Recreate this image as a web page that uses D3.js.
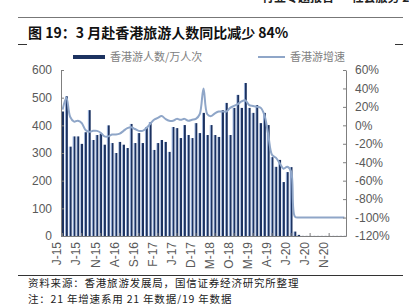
<!DOCTYPE html>
<html>
<head>
<meta charset="utf-8">
<script src="https://d3js.org/d3.v7.min.js"></script>
<style>
  body { margin:0; background:#fff; }
  svg { display:block; font-family:"Liberation Sans", Arial, "Noto Sans CJK SC", sans-serif; }
  .axis text { fill:#595959; font-size:12px; font-family:"Liberation Sans", Arial, sans-serif; }
  .axis path, .axis line { stroke:#7f7f7f; }
  .cjk { font-family:"Noto Sans CJK SC", sans-serif; }
</style>
</head>
<body>
<script>

// months Jan 2015 .. Mar 2021
var categories = [
  "2015-01","2015-02","2015-03","2015-04","2015-05","2015-06","2015-07","2015-08","2015-09","2015-10","2015-11","2015-12",
  "2016-01","2016-02","2016-03","2016-04","2016-05","2016-06","2016-07","2016-08","2016-09","2016-10","2016-11","2016-12",
  "2017-01","2017-02","2017-03","2017-04","2017-05","2017-06","2017-07","2017-08","2017-09","2017-10","2017-11","2017-12",
  "2018-01","2018-02","2018-03","2018-04","2018-05","2018-06","2018-07","2018-08","2018-09","2018-10","2018-11","2018-12",
  "2019-01","2019-02","2019-03","2019-04","2019-05","2019-06","2019-07","2019-08","2019-09","2019-10","2019-11","2019-12",
  "2020-01","2020-02","2020-03","2020-04","2020-05","2020-06","2020-07","2020-08","2020-09","2020-10","2020-11","2020-12",
  "2021-01","2021-02","2021-03"
];

// 香港游人数 (万人次)
var visitors = [
  450, 505, 323, 360, 360, 333, 375, 455, 347, 365, 370, 330,
  400, 336, 300, 340, 330, 318, 405, 336, 372, 336, 394, 412,
  311, 336, 347, 340, 304, 394, 390, 354, 401, 365, 354, 408,
  372, 445, 365, 401, 365, 358, 455, 481, 365, 463, 510, 463,
  553, 463, 445, 473, 408, 445, 401, 285, 250, 275, 195, 231,
  249, 16, 4, 0.4, 0.4, 0.4, 0.4, 0.4, 0.4, 0.4, 0.4, 0.4,
  0.4, 0.4, 0.4
];

// 香港游增速 (%)
var growth = [
  17, 30, 9, 4, 5, 2.5, -5, -7, -6, -6, -8, -12,
  -12, -10, -10, -9, -6, -3, -2, -4, -6, -6, -3, 1.5,
  6, 8, 10, 7, 5, 5, 7, 6, 7, 5, 6, 7,
  12, 40, 12, 10, 13, 15, 15, 15, 19, 21, 23, 26,
  27, 22, 21, 20, 19, 11, -10, -32, -35, -41, -47, -45,
  -50, -99, -100, -100, -100, -100, -100, -100, -100, -100, -100, -100,
  -100, -100, -100
];

var tickMonths = ["2015-01","2015-06","2015-11","2016-04","2016-09","2017-02","2017-07","2017-12",
                  "2018-05","2018-10","2019-03","2019-08","2020-01","2020-06","2020-11"];
var tickLabels = ["J-15","J-15","N-15","A-16","S-16","F-17","J-17","D-17",
                  "M-18","O-18","M-19","A-19","J-20","J-20","N-20"];
var leftTicks = [0, 100, 200, 300, 400, 500, 600];
var rightTicks = [-120, -100, -80, -60, -40, -20, 0, 20, 40, 60];

var W = 409, H = 304;
var svg = d3.select("body").append("svg").attr("width", W).attr("height", H);

var grad = svg.append("defs").append("linearGradient").attr("id", "barGrad")
  .attr("x1", 0).attr("x2", 1).attr("y1", 0).attr("y2", 0);
grad.append("stop").attr("offset", "0%").attr("stop-color", "#a9bde0");
grad.append("stop").attr("offset", "30%").attr("stop-color", "#8aa2cc");
grad.append("stop").attr("offset", "45%").attr("stop-color", "#1c3260");
grad.append("stop").attr("offset", "100%").attr("stop-color", "#1c3260");

// header fragment cut at top
svg.append("text").attr("class", "cjk").attr("x", 262).attr("y", 2)
  .attr("font-size", 12).attr("font-weight", "bold").attr("fill", "#222")
  .text("行业专题报告 · 社会服务 2021");

// frame lines
svg.append("line").attr("x1", 18).attr("x2", 403).attr("y1", 17.5).attr("y2", 17.5)
  .attr("stroke", "#777").attr("stroke-width", 1);
svg.append("line").attr("x1", 18).attr("x2", 27).attr("y1", 44.5).attr("y2", 44.5)
  .attr("stroke", "#333").attr("stroke-width", 1);
svg.append("line").attr("x1", 395).attr("x2", 403).attr("y1", 44.5).attr("y2", 44.5)
  .attr("stroke", "#333").attr("stroke-width", 1);
svg.append("line").attr("x1", 18).attr("x2", 403).attr("y1", 275.5).attr("y2", 275.5)
  .attr("stroke", "#333").attr("stroke-width", 1);

// title
svg.append("text").attr("class", "cjk").attr("x", 28).attr("y", 38)
  .attr("font-size", 14).attr("font-weight", "bold").attr("fill", "#111")
  .text("图 19：3 月赴香港旅游人数同比减少 84%");

// scales
var x = d3.scaleBand().domain(categories).range([61, 346]).paddingInner(0.25).paddingOuter(0.05);
var y = d3.scaleLinear().domain([0, 600]).range([236, 70]);
var y2 = d3.scaleLinear().domain([-120, 60]).range([236, 70]);

// bars
svg.append("g").selectAll("rect")
  .data(visitors)
  .enter().append("rect")
  .attr("x", (d, i) => x(categories[i]))
  .attr("width", x.bandwidth())
  .attr("y", d => y(d))
  .attr("height", d => 236 - y(d))
  .attr("fill", "url(#barGrad)");

// line
var line = d3.line()
  .x((d, i) => x(categories[i]) + x.bandwidth() / 2)
  .y(d => y2(d))
  .curve(d3.curveCatmullRom.alpha(0.5));
svg.append("path").datum(growth)
  .attr("d", line)
  .attr("fill", "none")
  .attr("stroke", "#8fa6c8")
  .attr("stroke-width", 2);

// axes
svg.append("g").attr("class", "axis")
  .attr("transform", "translate(61,0)")
  .call(d3.axisLeft(y).tickValues(leftTicks).tickSize(-3).tickPadding(9).tickSizeOuter(0))
  .select(".domain").attr("stroke", "#404040");

svg.append("g").attr("class", "axis")
  .attr("transform", "translate(346,0)")
  .call(d3.axisRight(y2).tickValues(rightTicks).tickSize(-3).tickPadding(9).tickSizeOuter(0)
    .tickFormat(d => d + "%"));

svg.append("g").attr("class", "axis")
  .attr("transform", "translate(0,236)")
  .call(d3.axisBottom(x).tickValues(tickMonths).tickSize(-3).tickSizeOuter(0)
    .tickFormat(d => tickLabels[tickMonths.indexOf(d)]))
  .selectAll("text")
    .attr("y", 0)
    .attr("x", -6)
    .attr("dy", "-0.1em")
    .style("text-anchor", "end")
    .attr("transform", "rotate(-90)");

// legend
var lg = svg.append("g");
lg.append("rect").attr("x", 73).attr("y", 55).attr("width", 32).attr("height", 4).attr("fill", "#1c3260");
lg.append("text").attr("class", "cjk").attr("x", 110).attr("y", 61)
  .attr("font-size", 11).attr("fill", "#808080").text("香港游人数/万人次");
lg.append("line").attr("x1", 258).attr("x2", 285).attr("y1", 57).attr("y2", 57)
  .attr("stroke", "#8fa6c8").attr("stroke-width", 2);
lg.append("text").attr("class", "cjk").attr("x", 290).attr("y", 61)
  .attr("font-size", 11).attr("fill", "#808080").text("香港游增速");

// notes
svg.append("text").attr("class", "cjk").attr("x", 28).attr("y", 287)
  .attr("font-size", 10.5).attr("letter-spacing", 0.8).attr("fill", "#222")
  .text("资料来源：香港旅游发展局，国信证券经济研究所整理");
svg.append("text").attr("class", "cjk").attr("x", 28).attr("y", 302.5)
  .attr("font-size", 10.5).attr("letter-spacing", 0.8).attr("fill", "#222")
  .text("注：21 年增速系用 21 年数据/19 年数据");

</script>
</body>
</html>
